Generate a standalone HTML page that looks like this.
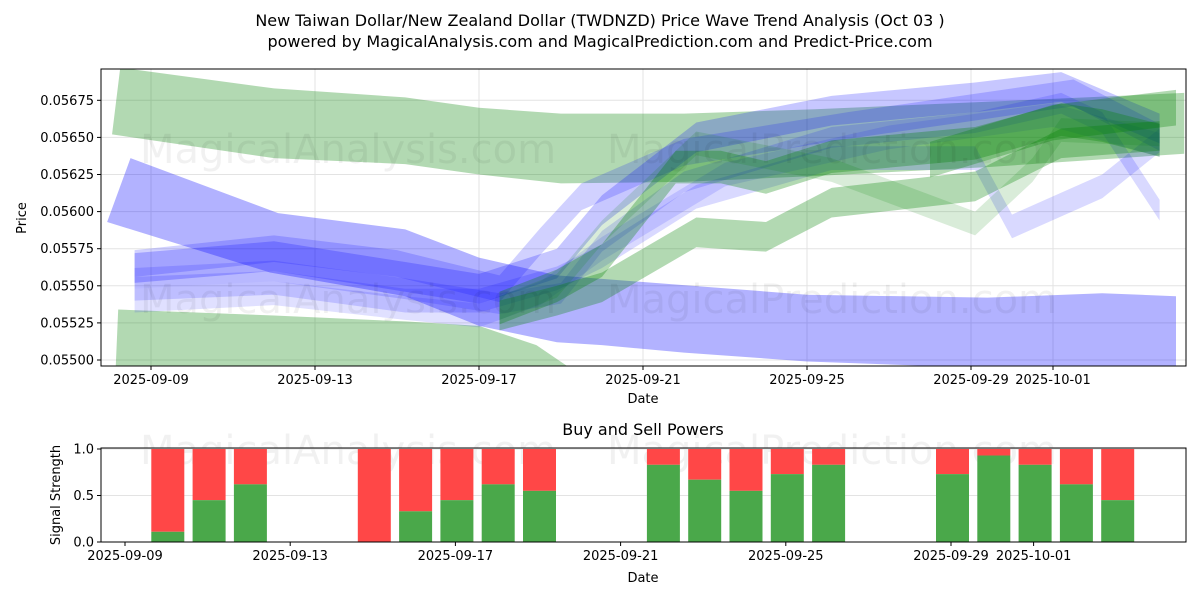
<!DOCTYPE html>
<html><head><meta charset="utf-8"><style>
body{margin:0;background:#fff;font-family:"Liberation Sans","DejaVu Sans",sans-serif}
svg text{font-family:"DejaVu Sans","Liberation Sans",sans-serif}
</style></head><body>
<svg id="c" width="1200" height="600" xmlns="http://www.w3.org/2000/svg">
<defs>
<clipPath id="clipTop"><rect x="101" y="69" width="1085" height="297"/></clipPath>
<clipPath id="clipBot"><rect x="101" y="448" width="1085" height="94"/></clipPath>
</defs>
<text x="600" y="26" text-anchor="middle" font-size="16">New Taiwan Dollar/New Zealand Dollar (TWDNZD) Price Wave Trend Analysis (Oct 03 )</text>
<text x="600" y="47" text-anchor="middle" font-size="16">powered by MagicalAnalysis.com and MagicalPrediction.com and Predict-Price.com</text>
<g id="topg"></g>
<g id="botg"></g>
</svg>
<script>
// ===== Data =====
const topTickDates = ["2025-09-09","2025-09-13","2025-09-17","2025-09-21","2025-09-25","2025-09-29","2025-10-01"];
const topTickDays = [0,4,8,12,16,20,22];
const priceTicks = [0.05500,0.05525,0.05550,0.05575,0.05600,0.05625,0.05650,0.05675];
const greenTopUp = [[-0.75,0.05697],[3,0.05683],[6.2,0.05677],[8,0.05670],[10,0.05666],[13,0.05666],[16.2,0.05669],[20.4,0.05674],[25.2,0.05680]];
const greenTopLo = [[-0.95,0.05652],[3,0.05636],[6.2,0.05632],[8,0.05625],[10,0.05619],[13,0.05620],[16.2,0.05624],[20.4,0.05630],[25.2,0.05639]];
const greenBotUp = [[-0.8,0.05534],[3,0.05530],[6.2,0.05526],[8,0.05523],[9.4,0.05510],[10.2,0.05495]];
const greenBotLo = [[-0.9,0.05470],[10.2,0.05470]];
const blueBigUp = [[-0.5,0.05636],[3.1,0.05599],[6.2,0.05588],[8,0.05569],[9.9,0.05557],[16,0.05544],[20.4,0.05542],[23.2,0.05545],[25,0.05543]];
const blueBigLo = [[-1.07,0.05593],[2.9,0.05559],[6.2,0.05543],[8,0.05523],[9.9,0.05512],[11,0.05510],[13,0.05505],[16,0.05499],[25,0.05490]];
const waveB1 = [[-0.4,0.05562],[3,0.05570],[6.2,0.05556],[8,0.05548],[9.9,0.05565],[11,0.05601],[13.3,0.05650],[16.6,0.05668],[20.1,0.05677],[22.2,0.05684],[24.6,0.05656]];
const waveB2 = [[-0.4,0.05548],[3,0.05552],[6.2,0.05540],[8,0.05540],[9.9,0.05555],[11,0.05570],[13.3,0.05610],[16.6,0.05636],[20.1,0.05636],[21,0.05590],[23.2,0.05617],[24.6,0.05648]];
const waveB3 = [[-0.4,0.05555],[3,0.05560],[6.2,0.05548],[8.5,0.05538],[10,0.05545],[11,0.05580],[13,0.05620],[16.6,0.05650],[20.1,0.05660],[22.2,0.05673],[23.2,0.05660],[24.6,0.05601]];
const waveB4 = [[-0.4,0.05565],[3,0.05575],[6,0.05565],[8.5,0.05548],[9.5,0.05580],[10.5,0.05610],[13,0.05640],[17,0.05658],[20,0.05670],[22.5,0.05680],[24.6,0.05650]];
const waveB5 = [[-0.4,0.05540],[3,0.05545],[6.2,0.05535],[8,0.05530],[9.5,0.05545],[11,0.05575],[14,0.05625],[18,0.05650],[22,0.05665],[24.6,0.05645]];
const waveG1 = [[8.5,0.05535],[9.9,0.05550],[11,0.05567],[12.8,0.05630],[13.9,0.05630],[15,0.05623],[16.6,0.05637],[20.1,0.05646],[22.2,0.05662],[23.2,0.05658],[24.6,0.05648]];
const waveG2 = [[8.5,0.05530],[9.9,0.05540],[11,0.05549],[13.3,0.05586],[15,0.05583],[16.6,0.05606],[20.1,0.05617],[22.2,0.05646],[24.6,0.05651]];
const waveG3 = [[8.5,0.05535],[9.9,0.05550],[11,0.05586],[13.3,0.05646],[16.6,0.05628],[20.1,0.05592],[21.5,0.05628],[22.2,0.05655],[24.6,0.05652]];
const waveG4 = [[19,0.05635],[22,0.05660],[25,0.05670]];
const barDays = [1,2,3,6,7,8,9,10,13,14,15,16,17,20,21,22,23,24];
const buyPower = [0.11,0.45,0.62,0,0.33,0.45,0.62,0.55,0.83,0.67,0.55,0.73,0.83,0.73,0.93,0.83,0.62,0.45];
const sigTicks = [0,0.5,1.0];
const sigTickLabels = ["0.0","0.5","1.0"];

// ===== Scales =====
const NS="http://www.w3.org/2000/svg";
const T={x0:101,x1:1186,y0:69,y1:366};
const B={x0:101,x1:1186,y0:448,y1:542};
const tx=d=>151+41*d;
const ty=p=>360-(p-0.055)/0.00025*37.1;
const bx=d=>125+41.3*d;
const by=v=>542-v*93;
function mk(tag,attrs,parent){const e=document.createElementNS(NS,tag);for(const k in attrs)e.setAttribute(k,attrs[k]);parent.appendChild(e);return e;}
const topG=document.getElementById('topg'), botG=document.getElementById('botg');

priceTicks.forEach(p=>{
  const g=mk('line',{x1:T.x0,x2:T.x1,y1:ty(p),y2:ty(p),stroke:'#e3e3e3','stroke-width':1},topG);
  
  
  const tk=mk('line',{x1:T.x0-4,x2:T.x0,y1:ty(p),y2:ty(p),stroke:'#000'},topG);
  
  
  const t=mk('text',{x:T.x0-7,y:ty(p)+4.5,'text-anchor':'end','font-size':13},topG);
  t.textContent=p.toFixed(5);
  
  
});
topTickDays.forEach((d,i)=>{
  const g=mk('line',{x1:tx(d),x2:tx(d),y1:T.y0,y2:T.y1,stroke:'#e3e3e3'},topG);
  
  
  const tk=mk('line',{x1:tx(d),x2:tx(d),y1:T.y1,y2:T.y1+4,stroke:'#000'},topG);
  
  
  const t=mk('text',{x:tx(d),y:T.y1+18,'text-anchor':'middle','font-size':13},topG);
  t.textContent=topTickDates[i];
  
  
});
function wm(x,y,s,parent){const t=mk('text',{x:x,y:y,'text-anchor':'middle','font-size':40,fill:'#000','fill-opacity':0.055},parent);t.textContent=s;
  
  }
const bands=mk('g',{'clip-path':'url(#clipTop)'},topG);
function edgeBand(up,lo,color,op,name){
  const pts=up.map(q=>tx(q[0])+','+ty(q[1])).concat(lo.slice().reverse().map(q=>tx(q[0])+','+ty(q[1])));
  const e=mk('polygon',{points:pts.join(' '),fill:color,'fill-opacity':op},bands);
  
  
}
function wave(c,hw,color,op,name){
  edgeBand(c.map(q=>[q[0],q[1]+hw]),c.map(q=>[q[0],q[1]-hw]),color,op,name);
}
edgeBand(greenTopUp,greenTopLo,'#008000',0.3,'green-band-upper');
edgeBand(greenBotUp,greenBotLo,'#008000',0.3,'green-band-lower');
edgeBand(blueBigUp,blueBigLo,'#0000ff',0.3,'blue-band-main');
wave(waveB5,0.00008,'#0000ff',0.12,'blue-wave-5');
wave(waveB2,0.00008,'#0000ff',0.15,'blue-wave-2');
wave(waveB3,0.00007,'#0000ff',0.15,'blue-wave-3');
wave(waveB4,0.00009,'#0000ff',0.18,'blue-wave-4');
wave(waveB1,0.0001,'#0000ff',0.22,'blue-wave-1');
wave(waveG3,0.00008,'#008000',0.15,'green-wave-3');
wave(waveG2,0.0001,'#008000',0.3,'green-wave-2');
wave(waveG1,0.00011,'#008000',0.3,'green-wave-1');
wave(waveG4,0.00012,'#008000',0.3,'green-wave-4');
wm(348,163,'MagicalAnalysis.com',topG);
wm(832,163,'MagicalPrediction.com',topG);
wm(348,313,'MagicalAnalysis.com',topG);
wm(832,313,'MagicalPrediction.com',topG);
const fr=mk('rect',{x:T.x0,y:T.y0,width:T.x1-T.x0,height:T.y1-T.y0,fill:'none',stroke:'#000','stroke-width':1},topG);


let t1=mk('text',{x:643,y:403,'text-anchor':'middle','font-size':13},topG);t1.textContent='Date';


let t2=mk('text',{x:26,y:218,'text-anchor':'middle','font-size':13,transform:'rotate(-90 26 218)'},topG);t2.textContent='Price';



let t3=mk('text',{x:643,y:435,'text-anchor':'middle','font-size':16},botG);t3.textContent='Buy and Sell Powers';


wm(348,464,'MagicalAnalysis.com',botG);
wm(832,464,'MagicalPrediction.com',botG);
sigTicks.forEach((v,i)=>{
  const g=mk('line',{x1:B.x0,x2:B.x1,y1:by(v),y2:by(v),stroke:'#e3e3e3'},botG);
  
  
  const tk=mk('line',{x1:B.x0-4,x2:B.x0,y1:by(v),y2:by(v),stroke:'#000'},botG);
  
  
  const t=mk('text',{x:B.x0-7,y:by(v)+4.5,'text-anchor':'end','font-size':13},botG);t.textContent=sigTickLabels[i];
  
  
});
const barsG=mk('g',{'clip-path':'url(#clipBot)'},botG);
barDays.forEach((d,i)=>{
  const cx=bx(d)+1.5, w=33;
  const s=mk('rect',{x:cx-w/2,y:by(1),width:w,height:by(buyPower[i])-by(1),fill:'#ff4747'},barsG);
  
  
  const b=mk('rect',{x:cx-w/2,y:by(buyPower[i]),width:w,height:by(0)-by(buyPower[i]),fill:'#4aa84a'},barsG);
  
  
});
topTickDays.forEach((d,i)=>{
  const tk=mk('line',{x1:bx(d),x2:bx(d),y1:B.y1,y2:B.y1+4,stroke:'#000'},botG);
  
  
  const t=mk('text',{x:bx(d),y:B.y1+18,'text-anchor':'middle','font-size':13},botG);t.textContent=topTickDates[i];
  
  
});
const fr2=mk('rect',{x:B.x0,y:B.y0,width:B.x1-B.x0,height:B.y1-B.y0,fill:'none',stroke:'#000'},botG);


let t4=mk('text',{x:643,y:582,'text-anchor':'middle','font-size':13},botG);t4.textContent='Date';


let t5=mk('text',{x:60,y:495,'text-anchor':'middle','font-size':13,transform:'rotate(-90 60 495)'},botG);t5.textContent='Signal Strength';


</script>
</body></html>
